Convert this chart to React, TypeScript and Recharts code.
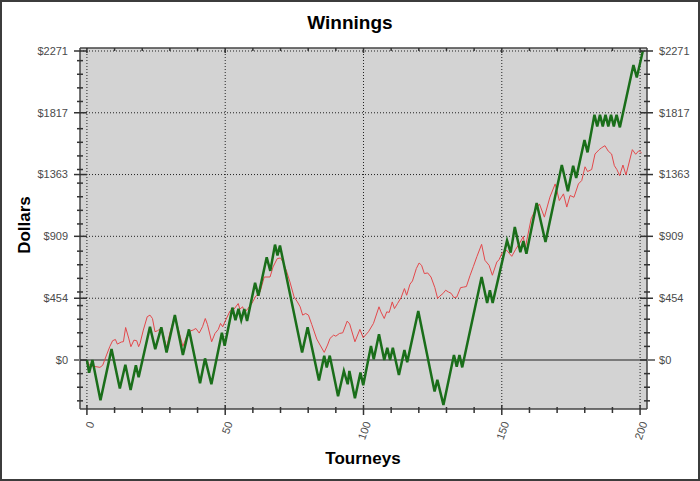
import { LineChart, Line, XAxis, YAxis, CartesianGrid, ReferenceLine } from 'recharts';

// cumulative winnings at the turning points
const greenPoints: [number, number][] = [
  [0, 0], [0.8, -93], [2, 0], [4.9, -295], [8.9, 80], [11.9, -210], [13.9, -35], [15.8, -220],
  [17.7, -39], [18.7, -127], [22.8, 245], [24.7, 80], [26.9, 240], [28.8, 55], [31.8, 330],
  [34.7, 37], [36.9, 225], [40.9, -171], [42.7, 12], [45, -178], [48.8, 200], [49.8, 105],
  [52.6, 385], [53.7, 293], [54.8, 376], [55.8, 293], [56.9, 374], [57.9, 287], [60.8, 568],
  [62, 472], [65, 755], [66.3, 655], [68, 848], [68.9, 769], [69.8, 842], [77.8, 55], [79.8, 240],
  [83.9, -150], [85.8, 32], [86.7, -55], [87.8, 32], [90.8, -266], [92.9, -80], [94.3, -178],
  [94.9, -80], [96.9, -281], [98.9, -92], [99.9, -185], [102.7, 103], [103.7, 5], [105.6, 190],
  [107.5, 0], [108.6, 90], [109.6, 0], [110.6, 90], [112.8, -110], [114.8, 73], [115.8, -17],
  [119.8, 361], [125.7, -232], [126.7, -146], [128.9, -330], [132.7, 37], [133.7, -49],
  [134.7, 37], [135.7, -54], [142.7, 610], [144.7, 420], [145.7, 513], [146.7, 420],
  [151.9, 879], [153.2, 789], [154.7, 977], [156.7, 793], [157.8, 874], [158.9, 781],
  [162.6, 1154], [165.8, 867], [171.7, 1433], [173.9, 1241], [175.8, 1428], [176.9, 1338],
  [179.9, 1617], [181, 1526], [183.5, 1802], [184.5, 1717], [185.5, 1802], [186.5, 1717],
  [187.5, 1802], [188.5, 1717], [189.5, 1802], [190.5, 1717], [191.5, 1802], [192.7, 1710],
  [197.6, 2168], [198.8, 2076], [201, 2271],
];

const redPoints: [number, number][] = [
  [0, 0], [0.9, -37], [2, -45], [3.3, -49], [4.7, -54], [5.7, -39], [7.1, 37], [8.3, 100],
  [9.3, 142], [10.3, 151], [11, 117], [12.4, 132], [13.2, 135], [14, 239], [15.1, 161],
  [15.9, 98], [17, 146], [18, 142], [18.7, 98], [19.2, 122], [20.4, 220], [21.8, 318],
  [22.8, 330], [23.7, 305], [24.6, 208], [25.5, 215], [27, 235], [28.8, 90], [30, 200],
  [31.8, 325], [33, 230], [34.7, 100], [36, 170], [37.5, 215], [38.4, 220], [39.4, 232],
  [40.6, 198], [41.8, 245], [42.8, 305], [43.6, 260], [45.1, 134], [46.3, 195], [47.5, 225],
  [48.3, 269], [49.1, 244], [50, 286], [51.7, 359], [53.2, 374], [54.7, 415], [55.3, 374],
  [56.3, 391], [57, 349], [58.2, 378], [59.6, 415], [61.1, 471], [62.6, 500], [64.1, 610],
  [66.2, 610], [67.3, 684], [68.8, 745], [70, 750], [70.9, 720], [72.2, 652], [73.4, 574],
  [74.9, 464], [76.1, 427], [77.1, 391], [78, 330], [79.1, 342], [80.1, 330], [81.3, 261],
  [83.1, 154], [84.3, 110], [85.8, 56], [87, 110], [87.9, 159], [89.2, 183], [90, 175],
  [91.3, 195], [92.5, 200], [94.1, 286], [95, 265], [96.9, 134], [98.7, 225], [99.9, 164],
  [101.8, 208], [103.6, 269], [105.6, 391], [106.3, 354], [107.5, 305], [108.4, 354],
  [109.3, 350], [110.4, 427], [111.2, 378], [112.3, 415], [113.6, 459], [114.8, 525],
  [115.6, 476], [116.8, 557], [117.7, 581], [119.1, 672], [120.1, 713], [121, 696], [122, 635],
  [123.2, 640], [124.4, 610], [125.8, 532], [126.8, 452], [127.6, 470], [128.7, 488],
  [129.7, 513], [130.7, 500], [131.7, 490], [132.7, 459], [133.7, 462], [135.1, 532],
  [136.2, 536], [137.2, 540], [138.5, 620], [139.7, 686], [141, 760], [142.7, 850],
  [143.9, 733], [145.4, 696], [146.6, 623], [148.2, 720], [149, 737], [150.2, 790],
  [151.8, 806], [153.6, 762], [155, 813], [156.5, 860], [157.8, 908], [158.4, 815],
  [160.6, 1037], [162, 1100], [163.6, 1147], [165.4, 1050], [167.4, 1197], [169.3, 1294],
  [170.8, 1172], [172.3, 1221], [173.5, 1124], [174.7, 1209], [176.1, 1196], [177.7, 1294],
  [178.9, 1319], [180.1, 1420], [181, 1385], [182.5, 1400], [183.7, 1514], [185.2, 1546],
  [186.1, 1560], [187.3, 1575], [188.5, 1535], [189.7, 1514], [190.7, 1428], [191.6, 1400],
  [192.6, 1355], [193.8, 1433], [194.9, 1360], [197.2, 1546], [198.4, 1512], [199.6, 1539],
  [200.6, 1521],
];

const yMajorTicks = [0, 454, 909, 1363, 1817, 2271];
const yMinorTicks = [-300, -200, -100, 100, 200, 300, 400, 500, 600, 700, 800, 1000, 1100, 1200,
  1300, 1400, 1500, 1600, 1700, 1900, 2000, 2100, 2200];
const xMajorTicks = [0, 50, 100, 150, 200];
const xMinorTicks = [10, 20, 30, 40, 60, 70, 80, 90, 110, 120, 130, 140, 160, 170, 180, 190];

const xDomain = [-2.5, 202.5];
const yDomain = [-360, 2293];

const W = 700;
const H = 481;
const PLOT_LEFT = 80;
const PLOT_RIGHT = 647;
const PLOT_TOP = 48;
const PLOT_BOTTOM = 409;
const FONT = '"Liberation Sans", Arial, sans-serif';
const TICK_COLOR = '#333';
const LABEL_COLOR = '#4a4a4a';

const greenData = greenPoints.map(([t, v]) => ({ t, v }));
const redData = redPoints.map(([t, v]) => ({ t, v }));

function YTick(props: any) {
  const { x, y, payload } = props;
  const v = payload.value as number;
  const major = yMajorTicks.includes(v);
  const len = major ? 6 : 3;
  return (
    <g>
      <line x1={x - len} x2={x + len + (major ? 1 : 0)} y1={y} y2={y} stroke={TICK_COLOR} strokeWidth={1.5} />
      <line x1={PLOT_RIGHT - len - (major ? 1 : 0)} x2={PLOT_RIGHT + len} y1={y} y2={y} stroke={TICK_COLOR} strokeWidth={1.5} />
      {v === 0 && (
        <>
          <line x1={x - 6} x2={x} y1={y} y2={y} stroke="#7a7a7a" strokeWidth={2} />
          <line x1={PLOT_RIGHT} x2={PLOT_RIGHT + 8} y1={y} y2={y} stroke="#7a7a7a" strokeWidth={2} />
        </>
      )}
      {major && (
        <>
          <text x={x - 12} y={y} dy="0.35em" textAnchor="end" fontSize={11} fill={LABEL_COLOR} fontFamily={FONT}>
            ${v}
          </text>
          <text x={PLOT_RIGHT + 12} y={y} dy="0.35em" textAnchor="start" fontSize={11} fill={LABEL_COLOR} fontFamily={FONT}>
            ${v}
          </text>
        </>
      )}
    </g>
  );
}

function XTick(props: any) {
  const { x, y, payload } = props;
  const v = payload.value as number;
  const major = xMajorTicks.includes(v);
  return (
    <g>
      <line x1={x} x2={x} y1={y - (major ? 4 : 2)} y2={y + (major ? 6 : 4)} stroke={TICK_COLOR} strokeWidth={1.5} />
      <line x1={x} x2={x} y1={PLOT_TOP} y2={PLOT_TOP + (major ? 5 : 3)} stroke={TICK_COLOR} strokeWidth={1.5} />
      {major && (
        <text
          transform={`translate(${x + 4},${y + 13}) rotate(-70)`}
          textAnchor="end"
          dy="0.35em"
          fontSize={11}
          fill={LABEL_COLOR}
          fontFamily={FONT}
        >
          {v}
        </text>
      )}
    </g>
  );
}

export default function App() {
  return (
    <div style={{ position: 'absolute', left: 0, top: 0, width: W, height: H, background: '#fff' }}>
      <LineChart width={W} height={H} margin={{ top: PLOT_TOP, right: W - PLOT_RIGHT, bottom: 0, left: 0 }}>
        <CartesianGrid
          fill="#d3d3d3"
          stroke="#222"
          strokeDasharray="1 2"
          horizontalValues={yMajorTicks}
          verticalValues={xMajorTicks}
        />
        <XAxis
          dataKey="t"
          type="number"
          domain={xDomain}
          allowDataOverflow
          ticks={[...xMajorTicks, ...xMinorTicks]}
          interval={0}
          height={H - PLOT_BOTTOM}
          tickSize={0}
          tickMargin={0}
          tick={<XTick />}
          axisLine={{ stroke: '#444', strokeWidth: 1.5 }}
        />
        <YAxis
          type="number"
          domain={yDomain}
          allowDataOverflow
          ticks={[...yMajorTicks, ...yMinorTicks]}
          interval={0}
          width={PLOT_LEFT}
          tickSize={0}
          tickMargin={0}
          tick={<YTick />}
          axisLine={{ stroke: '#444', strokeWidth: 1.5 }}
        />
        <ReferenceLine y={0} stroke="#7a7a7a" strokeWidth={2} />
        <ReferenceLine y={yDomain[1]} stroke="#444" strokeWidth={1.5} />
        <ReferenceLine x={xDomain[1]} stroke="#444" strokeWidth={1.5} />
        <Line
          data={redData}
          dataKey="v"
          type="linear"
          stroke="#e3484b"
          strokeWidth={1}
          dot={false}
          isAnimationActive={false}
        />
        <Line
          data={greenData}
          dataKey="v"
          type="linear"
          stroke="#1a6e1a"
          strokeWidth={2.5}
          dot={false}
          isAnimationActive={false}
        />
      </LineChart>
      <svg width={W} height={H} style={{ position: 'absolute', left: 0, top: 0, pointerEvents: 'none' }}>
        <text x={350} y={29} textAnchor="middle" fontSize={19} fontWeight="bold" fontFamily={FONT} fill="#000">
          Winnings
        </text>
        <text
          transform="translate(30,225) rotate(-90)"
          textAnchor="middle"
          fontSize={17}
          fontWeight="bold"
          fontFamily={FONT}
          fill="#000"
        >
          Dollars
        </text>
        <text x={363} y={464} textAnchor="middle" fontSize={17} fontWeight="bold" fontFamily={FONT} fill="#000">
          Tourneys
        </text>
      </svg>
      <div
        style={{
          position: 'absolute',
          left: 0,
          top: 0,
          width: W,
          height: H,
          boxSizing: 'border-box',
          border: '2px solid #3c3c3c',
          pointerEvents: 'none',
        }}
      />
    </div>
  );
}
